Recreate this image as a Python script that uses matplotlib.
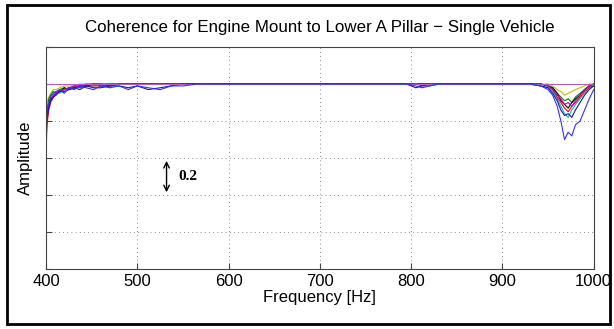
import numpy as np
import matplotlib
matplotlib.use('Agg')
from matplotlib import pyplot as plt
from matplotlib.patches import Rectangle

# Frequency points [Hz]
freq = [400, 401, 403, 405, 408, 411, 415, 420, 425, 431, 437, 444, 452, 460,
        470, 480, 490, 500, 512, 525, 537, 550, 565, 600, 700, 795, 805, 812,
        820, 830, 860, 900, 930, 942, 950, 955, 960, 964, 968, 972, 976, 980,
        985, 990, 995, 1000]

# Coherence curves (one per measurement run)
coh_blue = [0.72, 0.85, 0.90, 0.93, 0.95, 0.96, 0.97, 0.95, 0.98, 0.97, 0.99, 0.98,
            0.97, 0.99, 0.98, 0.99, 0.97, 0.99, 0.98, 0.97, 0.99, 0.99, 1.00, 1.00,
            1.00, 1.00, 0.99, 0.98, 0.99, 1.00, 1.00, 1.00, 1.00, 0.99, 0.97, 0.94,
            0.88, 0.80, 0.70, 0.74, 0.72, 0.78, 0.80, 0.86, 0.92, 0.97]
coh_red = [0.62, 0.78, 0.86, 0.90, 0.93, 0.95, 0.96, 0.97, 0.98, 0.98, 0.99, 0.99,
           0.99, 0.99, 0.99, 1.00, 1.00, 1.00, 1.00, 1.00, 1.00, 1.00, 1.00, 1.00,
           1.00, 1.00, 1.00, 0.99, 1.00, 1.00, 1.00, 1.00, 1.00, 1.00, 0.99, 0.97,
           0.93, 0.90, 0.87, 0.85, 0.88, 0.90, 0.93, 0.96, 0.98, 0.99]
coh_green = [0.80, 0.86, 0.92, 0.94, 0.96, 0.95, 0.97, 0.98, 0.97, 0.99, 0.98, 0.99,
             1.00, 0.99, 1.00, 1.00, 1.00, 1.00, 1.00, 1.00, 1.00, 1.00, 1.00, 1.00,
             1.00, 1.00, 1.00, 1.00, 1.00, 1.00, 1.00, 1.00, 1.00, 1.00, 0.99, 0.98,
             0.95, 0.93, 0.91, 0.92, 0.90, 0.93, 0.95, 0.97, 0.99, 1.00]
coh_cyan = [0.76, 0.84, 0.89, 0.92, 0.94, 0.96, 0.95, 0.97, 0.98, 0.98, 0.99, 0.99,
            0.99, 1.00, 1.00, 1.00, 1.00, 1.00, 1.00, 1.00, 1.00, 1.00, 1.00, 1.00,
            1.00, 1.00, 1.00, 1.00, 1.00, 1.00, 1.00, 1.00, 1.00, 0.99, 0.98, 0.96,
            0.92, 0.88, 0.84, 0.82, 0.86, 0.89, 0.92, 0.95, 0.98, 1.00]
coh_magenta = [0.68, 0.80, 0.88, 0.91, 0.94, 0.95, 0.97, 0.97, 0.98, 0.99, 0.99, 1.00,
               1.00, 1.00, 1.00, 1.00, 1.00, 1.00, 1.00, 1.00, 1.00, 1.00, 1.00, 1.00,
               1.00, 1.00, 1.00, 1.00, 1.00, 1.00, 1.00, 1.00, 1.00, 1.00, 0.99, 0.97,
               0.94, 0.92, 0.89, 0.90, 0.88, 0.91, 0.94, 0.97, 0.99, 1.00]
coh_yellow = [0.84, 0.90, 0.93, 0.95, 0.97, 0.97, 0.98, 0.99, 0.99, 0.99, 1.00, 1.00,
              1.00, 1.00, 1.00, 1.00, 1.00, 1.00, 1.00, 1.00, 1.00, 1.00, 1.00, 1.00,
              1.00, 1.00, 1.00, 1.00, 1.00, 1.00, 1.00, 1.00, 1.00, 1.00, 1.00, 0.99,
              0.97, 0.96, 0.94, 0.95, 0.96, 0.97, 0.98, 0.99, 1.00, 1.00]
coh_black = [0.74, 0.83, 0.88, 0.92, 0.93, 0.95, 0.96, 0.98, 0.97, 0.98, 0.99, 0.99,
             1.00, 1.00, 0.99, 1.00, 1.00, 1.00, 1.00, 1.00, 1.00, 1.00, 1.00, 1.00,
             1.00, 1.00, 1.00, 1.00, 1.00, 1.00, 1.00, 1.00, 1.00, 1.00, 0.99, 0.98,
             0.95, 0.91, 0.89, 0.87, 0.90, 0.92, 0.94, 0.97, 0.99, 1.00]
coh_navy = [0.70, 0.82, 0.87, 0.91, 0.93, 0.94, 0.96, 0.96, 0.97, 0.98, 0.97, 0.99,
            0.98, 0.98, 0.99, 0.99, 0.98, 0.99, 0.97, 0.98, 0.99, 1.00, 1.00, 1.00,
            1.00, 1.00, 0.98, 0.99, 0.99, 1.00, 1.00, 1.00, 1.00, 0.99, 0.98, 0.95,
            0.91, 0.86, 0.83, 0.84, 0.82, 0.86, 0.90, 0.94, 0.97, 0.99]
coh_flat = [1.00] * len(freq)

curves = [
    (coh_yellow, 'y'), (coh_green, 'g'), (coh_cyan, 'c'), (coh_black, 'k'),
    (coh_red, 'r'), (coh_magenta, 'm'), (coh_navy, '#1a1aa0'),
    (coh_flat, '#b060c0'), (coh_blue, '#3030ff'),
]

FONT = 'Liberation Sans'

fig = plt.figure(figsize=(6.14, 3.29), dpi=100)
ax = fig.add_axes([0.075, 0.182, 0.892, 0.675])
for (vals, col) in curves:
    ax.plot(freq, vals, color=col, linewidth=0.8)

ax.set_xlim(400, 1000)
ax.set_ylim(0, 1.2)
ax.set_xticks(np.arange(400, 1001, 100))
ax.set_yticks(np.arange(0, 1.21, 0.2))
ax.set_yticklabels([])
ax.grid(True, linestyle=(0, (1, 4)), color='#666666', linewidth=0.6)
ax.tick_params(direction='in', length=4, labelsize=12, color='#444444')
for s in ax.spines.values():
    s.set_color('#444444')
    s.set_linewidth(0.8)
ax.set_xlabel('Frequency [Hz]', fontsize=12, labelpad=1, family=FONT)
ax.set_ylabel('Amplitude', fontsize=12, labelpad=6, family=FONT)
for lbl in ax.get_xticklabels():
    lbl.set_family(FONT)

fig.text(0.521, 0.915, 'Coherence for Engine Mount to Lower A Pillar \u2212 Single Vehicle',
         ha='center', va='center', fontsize=12.2, family=FONT)

# 0.2 scale marker
ax.annotate('', xy=(532, 0.4), xytext=(532, 0.6),
            arrowprops=dict(arrowstyle='<->', color='black', lw=1.0))
ax.text(545, 0.5, '0.2', fontsize=11, fontweight='bold',
        family='Liberation Serif', va='center', ha='left')

# outer frame
fig.patches.append(Rectangle((0.012, 0.015), 0.982, 0.97, transform=fig.transFigure,
                             fill=False, edgecolor='black', linewidth=2))

plt.savefig('out.png', dpi=100)
